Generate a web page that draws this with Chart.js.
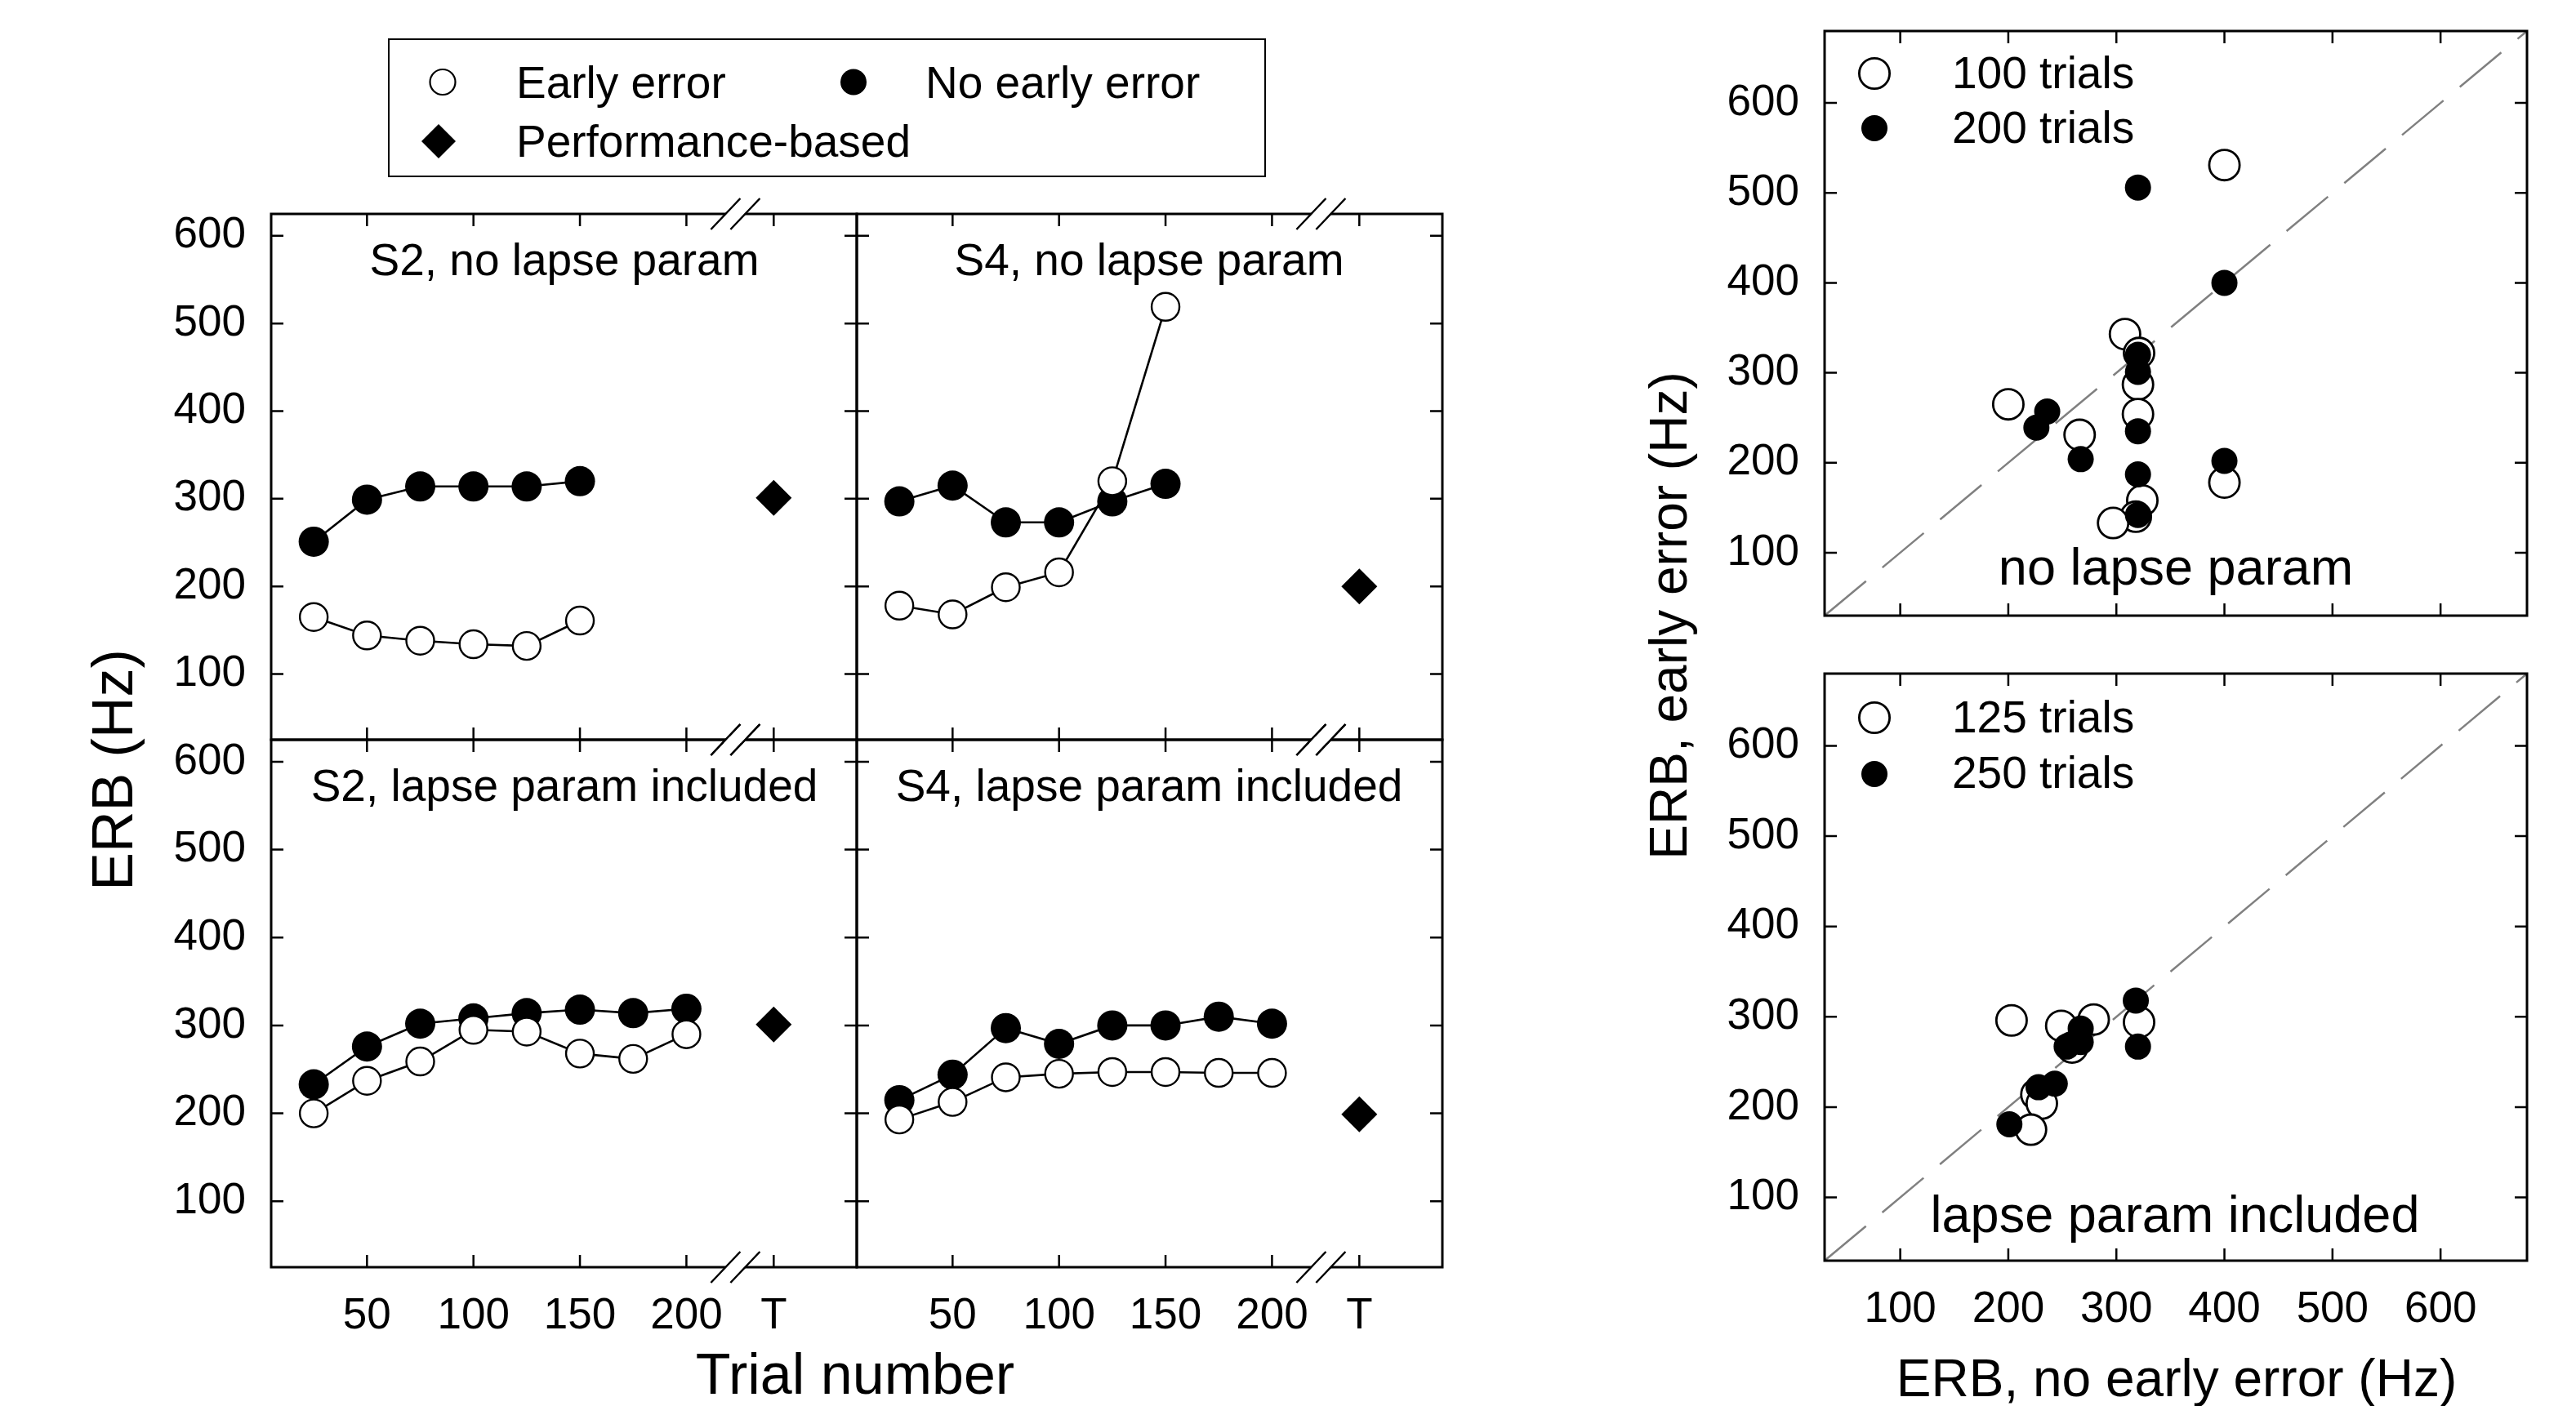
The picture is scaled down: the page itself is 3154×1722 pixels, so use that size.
<!DOCTYPE html>
<html><head><meta charset="utf-8">
<script src="https://cdn.jsdelivr.net/npm/chart.js@4.4.1/dist/chart.umd.min.js"></script>
<style>
html,body{margin:0;padding:0;background:#fff;}
body{width:3154px;height:1722px;position:relative;overflow:hidden;font-family:"Liberation Sans",Arial,sans-serif;}
canvas{position:absolute;}
.t{position:absolute;white-space:nowrap;line-height:1;color:#000;transform-origin:0 0;}
</style></head><body>
<svg id="leg" width="3154" height="1722" style="position:absolute;left:0;top:0">
  <rect x="476" y="48" width="1073" height="168" fill="none" stroke="#000" stroke-width="2"/>
  <circle cx="542" cy="100.5" r="15.5" fill="#fff" stroke="#000" stroke-width="2.2"/>
  <circle cx="1045" cy="100.5" r="16" fill="#000"/>
  <polygon points="537,152 558,173 537,194 516,173" fill="#000"/>
</svg>
<script>
// ---------- data ----------
const T_POS = 241;          // x position of the "T" (performance-based) column
const BREAK_AT = 223;       // axis break location
const xTickVals = [50, 100, 150, 200];
const yTickVals = [100, 200, 300, 400, 500, 600];

const trialsShort = [25, 50, 75, 100, 125, 150];
const trialsLong  = [25, 50, 75, 100, 125, 150, 175, 200];

const s2NoLapseEarly   = [165, 144, 138, 134, 132, 161];
const s2NoLapseNoEarly = [251, 299, 314, 314, 314, 320];
const s2NoLapsePerf    = 301;

const s4NoLapseEarly   = [178, 168, 199, 216, 320, 519];
const s4NoLapseNoEarly = [297, 315, 273, 273, 297, 317];
const s4NoLapsePerf    = 200;

const s2LapseEarly   = [200, 237, 259, 295, 293, 268, 262, 290];
const s2LapseNoEarly = [233, 276, 302, 308, 314, 318, 314, 319];
const s2LapsePerf    = 301;

const s4LapseEarly   = [193, 213, 241, 245, 247, 247, 246, 246];
const s4LapseNoEarly = [215, 244, 297, 279, 300, 300, 310, 302];
const s4LapsePerf    = 199;

// scatter: x = ERB no early error, y = ERB early error
const noLapse100x = [400, 308, 321, 320, 320, 200, 266, 400, 324, 318, 297];
const noLapse100y = [531, 343, 322, 287, 254, 265, 231, 178, 158, 140, 133];
const noLapse200x = [320, 400, 320, 320, 236, 226, 267, 320, 320, 400, 320];
const noLapse200y = [506, 400, 320, 301, 257, 239, 204, 235, 187, 202, 142];

const lapse125x = [203, 249, 279, 321, 259, 226, 231, 221];
const lapse125y = [296, 290, 297, 294, 266, 214, 204, 175];
const lapse250x = [318, 320, 267, 267, 254, 243, 228, 201];
const lapse250y = [318, 267, 287, 272, 267, 226, 222, 181];

const scatterTicks = [100, 200, 300, 400, 500, 600];
const diagRange = [30, 680];

// ---------- helpers ----------
const FONT = "'Liberation Sans', Arial, sans-serif";
Chart.defaults.font.family = FONT;
Chart.defaults.color = '#000';

function txt(s, x, y, size, align, rot) {
  const d = document.createElement('div');
  d.className = 't';
  d.textContent = s;
  d.style.fontSize = size + 'px';
  d.style.left = x + 'px';
  d.style.top = y + 'px';
  const tx = align === 'center' ? '-50%' : (align === 'right' ? '-100%' : '0');
  d.style.transform = (rot ? 'rotate(' + rot + 'deg) ' : '') + 'translate(' + tx + ', -84.65%)';
  document.body.appendChild(d);
}

const zip = (xs, ys) => xs.map((v, i) => ({x: v, y: ys[i]}));

const framePlugin = {
  id: 'frame',
  afterDraw(chart, args, o) {
    const {ctx, chartArea: a, scales: {x, y}} = chart;
    ctx.save();
    ctx.strokeStyle = '#000';
    ctx.lineCap = 'butt';
    ctx.lineWidth = 2.5;
    ctx.beginPath();
    o.xTicks.forEach(v => {
      const px = x.getPixelForValue(v);
      ctx.moveTo(px, a.bottom); ctx.lineTo(px, a.bottom - 15);
      ctx.moveTo(px, a.top); ctx.lineTo(px, a.top + 15);
    });
    o.yTicks.forEach(v => {
      const py = y.getPixelForValue(v);
      ctx.moveTo(a.left, py); ctx.lineTo(a.left + 15, py);
      ctx.moveTo(a.right, py); ctx.lineTo(a.right - 15, py);
    });
    ctx.stroke();
    ctx.lineWidth = 3;
    ctx.strokeRect(a.left, a.top, a.right - a.left, a.bottom - a.top);
    if (o.breakAt != null) {
      const bx = x.getPixelForValue(o.breakAt);
      const k = 18 / 19, h = 4;
      [a.top, a.bottom].forEach(by => {
        ctx.fillStyle = '#fff';
        ctx.beginPath();
        ctx.moveTo(bx - 11 + k * h, by - h);
        ctx.lineTo(bx + 11 + k * h, by - h);
        ctx.lineTo(bx + 11 - k * h, by + h);
        ctx.lineTo(bx - 11 - k * h, by + h);
        ctx.closePath();
        ctx.fill();
        ctx.lineWidth = 2.5;
        ctx.beginPath();
        [-12, 12].forEach(off => {
          ctx.moveTo(bx + off - 18, by + 19);
          ctx.lineTo(bx + off + 18, by - 19);
        });
        ctx.stroke();
      });
    }
    if (o.legend) {
      o.legend.forEach(m => {
        const cx = m.x - o.offX, cy = m.y - o.offY;
        ctx.beginPath();
        ctx.arc(cx, cy, m.r, 0, Math.PI * 2);
        ctx.fillStyle = m.fill;
        ctx.fill();
        if (m.stroke) { ctx.lineWidth = 2.8; ctx.strokeStyle = '#000'; ctx.stroke(); }
      });
    }
    ctx.restore();
  }
};

function makeChart(rect, datasets, cfg) {
  const m = 150;
  const c = document.createElement('canvas');
  const W = rect.R - rect.L + 2 * m, H = rect.B - rect.T + 2 * m;
  c.width = W; c.height = H;
  c.style.left = (rect.L - m) + 'px';
  c.style.top = (rect.T - m) + 'px';
  c.style.width = W + 'px';
  c.style.height = H + 'px';
  document.body.appendChild(c);
  const frame = Object.assign({offX: rect.L - m, offY: rect.T - m}, cfg.frame);
  return new Chart(c, {
    type: 'scatter',
    data: {datasets},
    options: {
      responsive: false, animation: false, devicePixelRatio: 1, events: [],
      layout: {padding: {left: 0, bottom: 0, top: m, right: m}},
      plugins: {legend: {display: false}, tooltip: {enabled: false}, frame},
      scales: {
        x: {
          type: 'linear', min: cfg.xMin, max: cfg.xMax,
          grid: {display: false, drawTicks: false}, border: {display: false},
          afterFit: s => { s.height = m; },
          afterBuildTicks: s => { s.ticks = cfg.xLabelVals.map(v => ({value: v})); },
          ticks: {display: cfg.xLabels, padding: cfg.xPad, font: {family: FONT, size: 53}, color: '#000',
                  maxRotation: 0, minRotation: 0, autoSkip: false,
                  callback: v => (v === T_POS ? 'T' : String(v))}
        },
        y: {
          type: 'linear', min: cfg.yMin, max: cfg.yMax,
          grid: {display: false, drawTicks: false}, border: {display: false},
          afterFit: s => { s.width = m; },
          afterBuildTicks: s => { s.ticks = cfg.yLabelVals.map(v => ({value: v})); },
          ticks: {display: cfg.yLabels, padding: 31, font: {family: FONT, size: 53}, color: '#000',
                  autoSkip: false, callback: v => String(v)}
        }
      }
    },
    plugins: [framePlugin]
  });
}

function panelSets(trials, early, noEarly, perf) {
  return [
    {data: zip(trials, early), showLine: true, borderColor: '#000', borderWidth: 2.6,
     pointRadius: 17, pointBorderWidth: 2.4, pointBackgroundColor: '#fff', pointBorderColor: '#000'},
    {data: zip(trials, noEarly), showLine: true, borderColor: '#000', borderWidth: 2.6,
     pointRadius: 18.5, pointBorderWidth: 0, pointBackgroundColor: '#000', pointBorderColor: '#000'},
    {data: [{x: T_POS, y: perf}], showLine: false, pointStyle: 'rectRot', pointRadius: 22,
     pointBackgroundColor: '#000', pointBorderColor: '#000', pointBorderWidth: 0}
  ];
}

function panelCfg(xLabels, yLabels) {
  return {
    xMin: 5, xMax: 280, yMin: 25, yMax: 625, xPad: 29,
    xLabelVals: xTickVals.concat([T_POS]), yLabelVals: yTickVals,
    xLabels, yLabels,
    frame: {xTicks: xTickVals.concat([T_POS]), yTicks: yTickVals, breakAt: BREAK_AT}
  };
}

function scatterSets(xf, yf, xo, yo) {
  return [
    {data: zip(xf, yf), pointRadius: 16, pointBackgroundColor: '#000', pointBorderColor: '#000', pointBorderWidth: 0},
    {data: zip(xo, yo), pointRadius: 18.6, pointBackgroundColor: '#fff', pointBorderColor: '#000', pointBorderWidth: 2.8},
    {data: zip(diagRange, diagRange), showLine: true, borderColor: '#808080', borderWidth: 2.5,
     borderDash: [66, 26], pointRadius: 0}
  ];
}

function scatterCfg(xLabels, legend) {
  return {
    xMin: 30, xMax: 680, yMin: 30, yMax: 680, xPad: 29,
    xLabelVals: scatterTicks, yLabelVals: scatterTicks,
    xLabels, yLabels: true,
    frame: {xTicks: scatterTicks, yTicks: scatterTicks, breakAt: null, legend}
  };
}

// ---------- charts ----------
makeChart({L: 332, T: 262, R: 1049, B: 906}, panelSets(trialsShort, s2NoLapseEarly, s2NoLapseNoEarly, s2NoLapsePerf), panelCfg(false, true));
makeChart({L: 1049, T: 262, R: 1766, B: 906}, panelSets(trialsShort, s4NoLapseEarly, s4NoLapseNoEarly, s4NoLapsePerf), panelCfg(false, false));
makeChart({L: 332, T: 906, R: 1049, B: 1552}, panelSets(trialsLong, s2LapseEarly, s2LapseNoEarly, s2LapsePerf), panelCfg(true, true));
makeChart({L: 1049, T: 906, R: 1766, B: 1552}, panelSets(trialsLong, s4LapseEarly, s4LapseNoEarly, s4LapsePerf), panelCfg(true, false));

makeChart({L: 2234, T: 38, R: 3094, B: 754}, scatterSets(noLapse200x, noLapse200y, noLapse100x, noLapse100y),
  scatterCfg(false, [{x: 2295, y: 90, r: 18.6, fill: '#fff', stroke: true}, {x: 2295, y: 157, r: 16, fill: '#000'}]));
makeChart({L: 2234, T: 825, R: 3094, B: 1544}, scatterSets(lapse250x, lapse250y, lapse125x, lapse125y),
  scatterCfg(true, [{x: 2295, y: 879, r: 18.6, fill: '#fff', stroke: true}, {x: 2295, y: 948, r: 16, fill: '#000'}]));

// ---------- text ----------
txt('Early error', 632, 120.7, 55, 'left');
txt('No early error', 1133, 120.7, 55, 'left');
txt('Performance-based', 632, 193, 55, 'left');

txt('S2, no lapse param', 691, 337.6, 55, 'center');
txt('S4, no lapse param', 1407, 337.6, 55, 'center');
txt('S2, lapse param included', 691, 981.8, 55, 'center');
txt('S4, lapse param included', 1407, 981.8, 55, 'center');

txt('ERB (Hz)', 162, 943, 70, 'center', -90);
txt('Trial number', 1047, 1707, 70, 'center');

txt('100 trials', 2390, 108.5, 55, 'left');
txt('200 trials', 2390, 175.5, 55, 'left');
txt('125 trials', 2390, 898, 55, 'left');
txt('250 trials', 2390, 966, 55, 'left');
txt('no lapse param', 2664, 716, 63, 'center');
txt('lapse param included', 2663, 1509, 63, 'center');

txt('ERB, early error (Hz)', 2065, 754, 64, 'center', -90);
txt('ERB, no early error (Hz)', 2665, 1710, 64, 'center');
</script>
</body></html>
